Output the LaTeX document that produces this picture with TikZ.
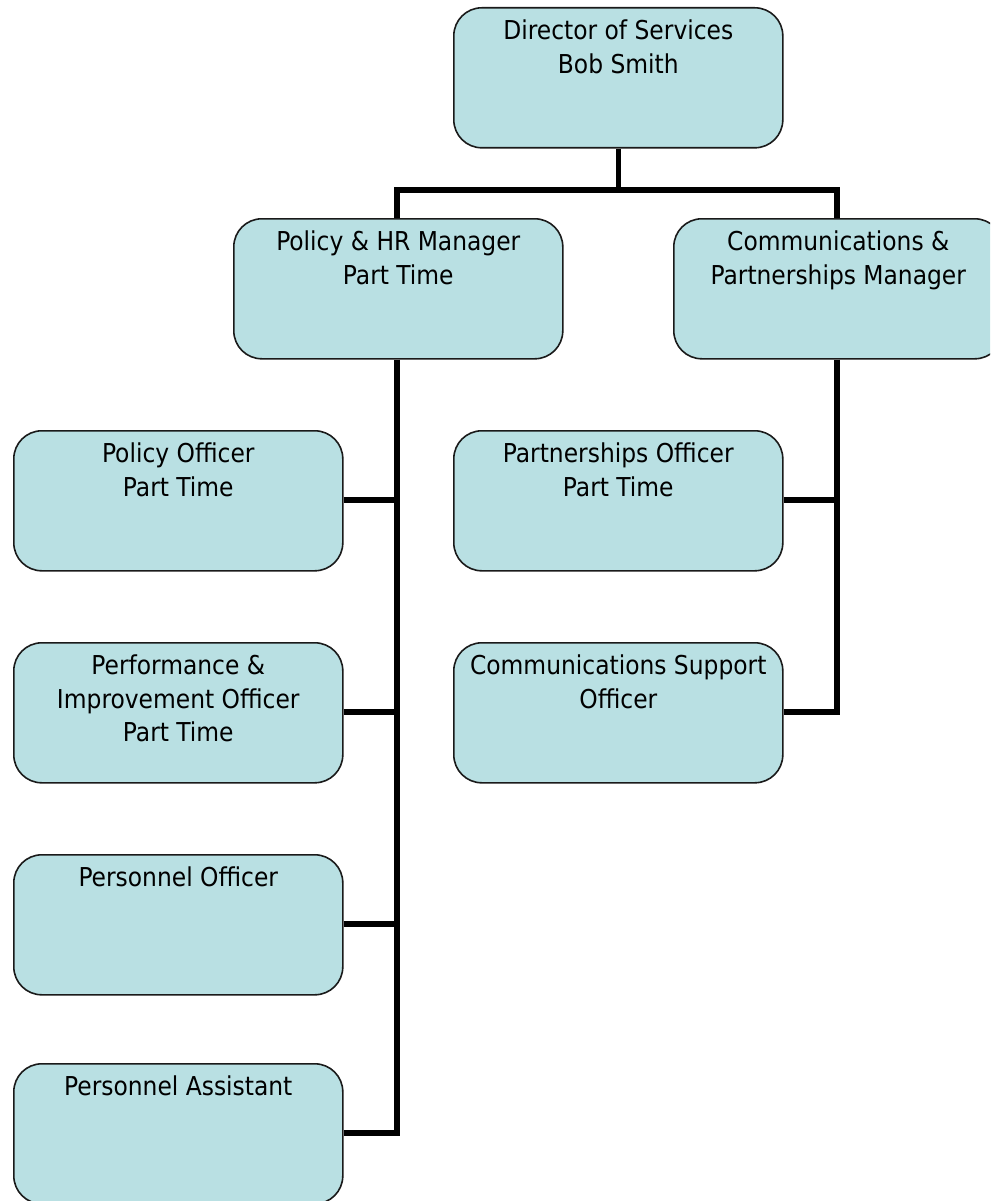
\documentclass[tikz,border=0pt]{standalone}
\usepackage{fontspec}
\setmainfont{DejaVu Sans Condensed}
\definecolor{boxfill}{HTML}{B9E0E3}
\definecolor{boxline}{HTML}{1A1A1A}
\tikzset{
  orgbox/.style={draw=boxline, line width=1.6pt, fill=boxfill, rounded corners=28pt,
    anchor=north west, inner xsep=0pt, inner ysep=0pt, minimum width=329pt, minimum height=140pt,
    font=\fontsize{26}{33.5}\selectfont},
  link/.style={line width=5.5pt, draw=black}
}
\newcommand{\boxtext}[1]{\parbox[t][140pt][t]{329pt}{\centering\rule{0pt}{32pt}#1}}
\begin{document}
\begin{tikzpicture}[x=1pt,y=-1pt]
\useasboundingbox (0,0) rectangle (990,1201);
\clip (0,0) rectangle (990,1201);
\fill[white] (0,0) rectangle (990,1201);
\coordinate (jl) at (397,190);
\coordinate (jr) at (837,190);
\coordinate (l1) at (397,500);
\coordinate (l2) at (397,712);
\coordinate (l3) at (397,924);
\coordinate (l4) at (397,1133);
\coordinate (r1) at (837,500);
\coordinate (r2) at (837,712);

\node[orgbox] (dir) at (453,7) {\boxtext{Director of Services\\Bob Smith}};
\node[orgbox] (hr) at (233,218) {\boxtext{Policy \& HR Manager\\Part Time}};
\node[orgbox] (cp) at (673,218) {\boxtext{Communications \&\\Partnerships Manager}};
\node[orgbox] (po) at (13,430) {\boxtext{Policy Officer\\Part Time}};
\node[orgbox] (pi) at (13,642) {\boxtext{Performance \&\\Improvement Officer\\Part Time}};
\node[orgbox] (pso) at (13,854) {\boxtext{Personnel Officer}};
\node[orgbox] (psa) at (13,1063) {\boxtext{Personnel Assistant}};
\node[orgbox] (pto) at (453,430) {\boxtext{Partnerships Officer\\Part Time}};
\node[orgbox] (cso) at (453,642) {\boxtext{Communications Support\\Officer}};

\coordinate (j1) at (dir.south |- jl);
\draw[link] (dir.south) -- (j1);
\draw[link, line cap=rect] (jl) -- (jr);
\draw[link] (jl) -- (jl |- hr.north);
\draw[link] (jr) -- (jr |- cp.north);
\draw[link] (hr.south -| l1) -- (l4) -- (psa.east |- l4);
\draw[link] (po.east |- l1) -- (l1);
\draw[link] (pi.east |- l2) -- (l2);
\draw[link] (pso.east |- l3) -- (l3);
\draw[link] (cp.south -| r1) -- (r2) -- (cso.east |- r2);
\draw[link] (pto.east |- r1) -- (r1);
\end{tikzpicture}
\end{document}
